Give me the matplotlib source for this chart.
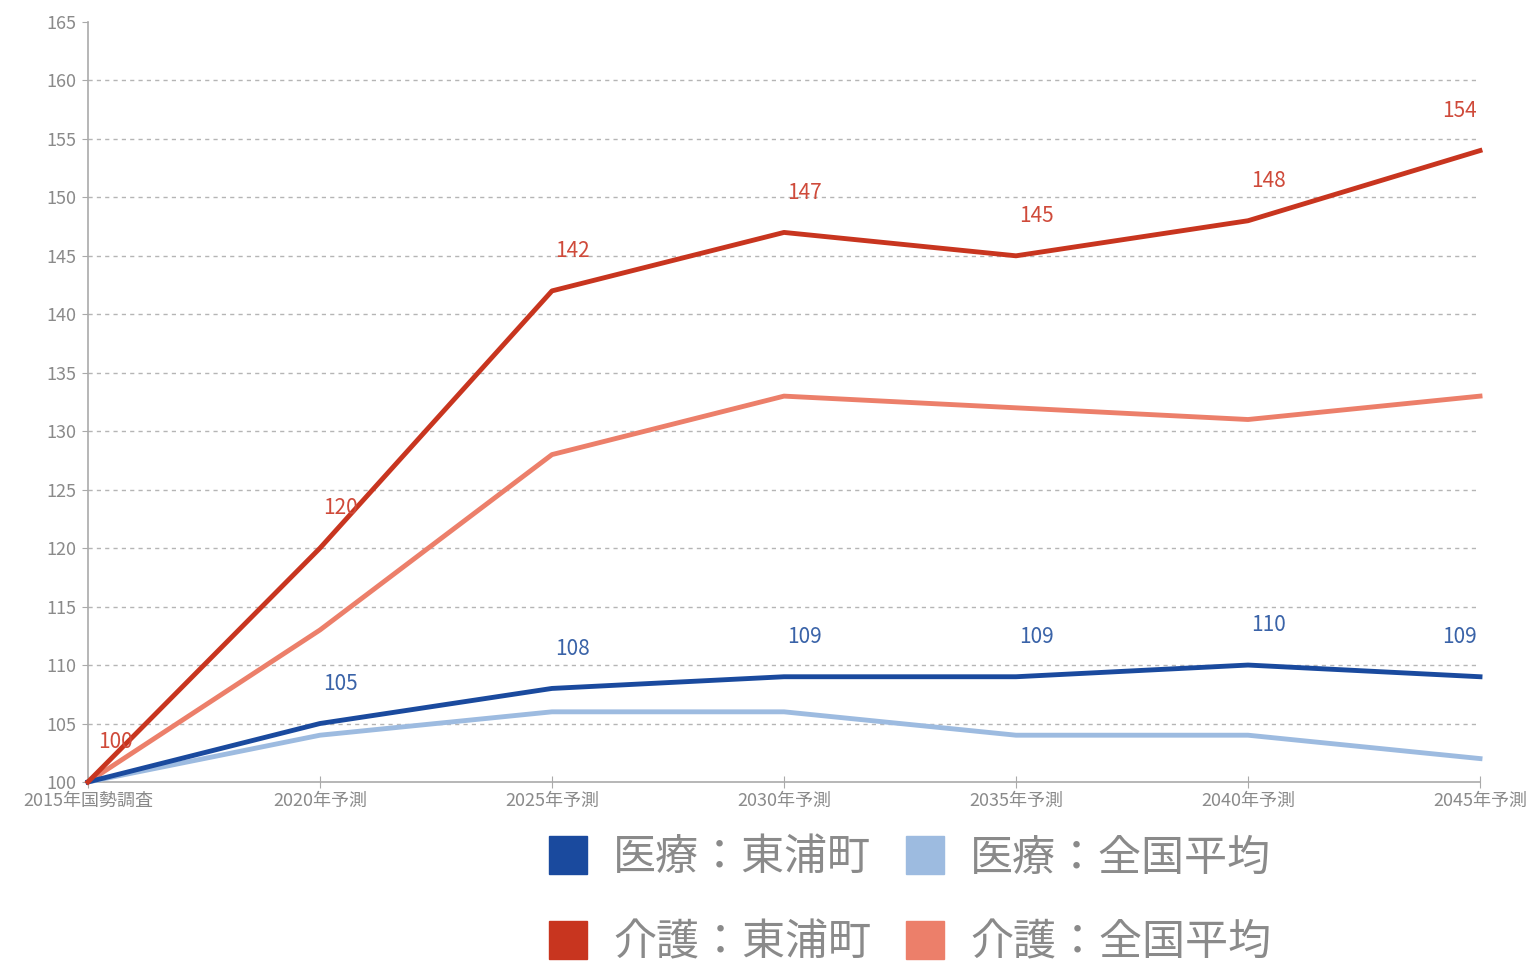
import matplotlib.pyplot as plt
from matplotlib.lines import Line2D

plt.rcParams['font.family'] = ['Noto Sans CJK JP', 'DejaVu Sans']

# データ
years = ['2015年国勢調査', '2020年予測', '2025年予測', '2030年予測',
         '2035年予測', '2040年予測', '2045年予測']
kaigo_toura = [100, 120, 142, 147, 145, 148, 154]
kaigo_zenkoku = [100, 113, 128, 133, 132, 131, 133]
iryo_toura = [100, 105, 108, 109, 109, 110, 109]
iryo_zenkoku = [100, 104, 106, 106, 104, 104, 102]

# 色
c_iryo_t = '#1a4a9e'
c_iryo_z = '#9dbbe0'
c_kaigo_t = '#c8351f'
c_kaigo_z = '#ec7f6a'
gray = '#8a8a8a'

fig = plt.figure(figsize=(15.38, 9.72), dpi=100)
ax = fig.add_axes([0.0572, 0.1955, 0.9051, 0.7819])

x = list(range(len(years)))

ax.plot(x, iryo_zenkoku, color=c_iryo_z, lw=3.5, zorder=3, clip_on=False)
ax.plot(x, iryo_toura, color=c_iryo_t, lw=3.5, zorder=4, clip_on=False)
ax.plot(x, kaigo_zenkoku, color=c_kaigo_z, lw=3.5, zorder=3, clip_on=False)
ax.plot(x, kaigo_toura, color=c_kaigo_t, lw=3.5, zorder=4, clip_on=False)

# 値ラベル(東浦町のみ)
last = len(x) - 1
for i, v in enumerate(kaigo_toura):
    dx = 0.09 if i < last else -0.09
    if i == 0:
        dx = 0.12
    ax.text(x[i] + dx, v + 3.4, str(v), ha='center', va='center',
            fontsize=15, color='#cf4a3a', zorder=5)
for i, v in enumerate(iryo_toura):
    if i == 0:
        continue
    dx = 0.09 if i < last else -0.09
    ax.text(x[i] + dx, v + 3.4, str(v), ha='center', va='center',
            fontsize=15, color='#3a63a8', zorder=5)

ax.set_xlim(0, last)
ax.set_ylim(100, 165)
ax.set_yticks(range(100, 166, 5))
ax.set_xticks(x)
ax.set_xticklabels(years)

for y in range(105, 165, 5):
    ax.axhline(y, color='#b5b5b5', lw=1, ls=(0, (3, 3)), zorder=1)

for s in ['top', 'right']:
    ax.spines[s].set_visible(False)
for s in ['left', 'bottom']:
    ax.spines[s].set_color('#aaaaaa')
    ax.spines[s].set_linewidth(1.2)

ax.tick_params(axis='y', colors='#aaaaaa', labelcolor=gray, labelsize=13,
               length=4, pad=4)
ax.tick_params(axis='x', colors='#aaaaaa', labelcolor=gray, labelsize=13,
               direction='inout', length=8, pad=3)

# 凡例
handles = [
    Line2D([], [], ls='none', marker='s', markersize=28, color=c_iryo_t),
    Line2D([], [], ls='none', marker='s', markersize=28, color=c_kaigo_t),
    Line2D([], [], ls='none', marker='s', markersize=28, color=c_iryo_z),
    Line2D([], [], ls='none', marker='s', markersize=28, color=c_kaigo_z),
]
labels = ['医療：東浦町', '介護：東浦町', '医療：全国平均', '介護：全国平均']
leg = fig.legend(handles, labels, ncol=2, loc='lower left',
                 bbox_to_anchor=(0.33, -0.033), frameon=False,
                 fontsize=31, labelcolor=gray, handletextpad=0.55,
                 columnspacing=0.75, labelspacing=0.95, handlelength=1.0)

fig.savefig('out.png', dpi=100)
